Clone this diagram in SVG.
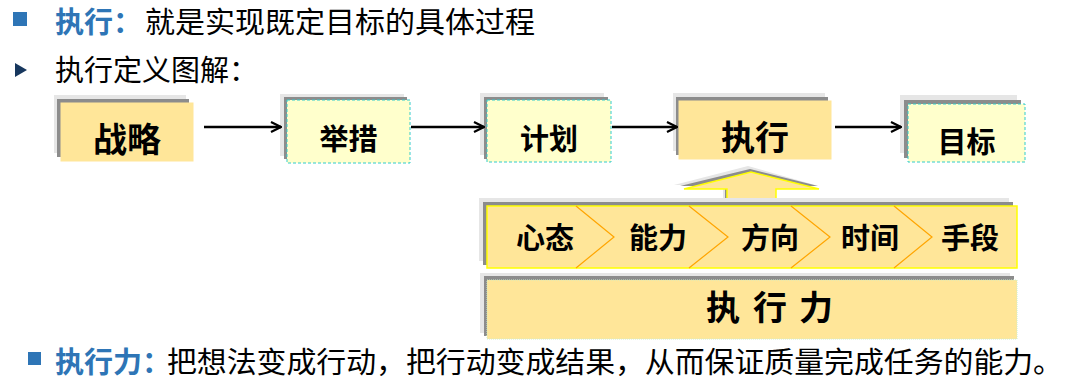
<svg xmlns="http://www.w3.org/2000/svg" width="1065" height="389" viewBox="0 0 1065 389">
  <style>
    text { font-family: "Noto Sans CJK SC", "Noto Sans", sans-serif; }
    .body { font-size: 29px; fill: #000; }
    .lead { font-size: 29px; font-weight: bold; fill: #2E75B6; }
    .lbl { font-weight: bold; fill: #000; text-anchor: middle; }
    .halo { fill: #E6E6E6; }
    .shadow { fill: #8C8C8C; }
    .gold { fill: #FFE699; stroke: #FFE699; stroke-width: 1; }
    .pale { fill: #FFFFCC; stroke: #33CCCC; stroke-width: 1; stroke-dasharray: 3 2; }
    .conn { stroke: #000; stroke-width: 2.5; fill: none; marker-end: url(#open); }
    .chev { stroke: #FFA500; stroke-width: 1.2; fill: none; }
  </style>
  <defs>
    <marker id="open" viewBox="0 0 12 12" refX="11" refY="6" markerWidth="12" markerHeight="12" markerUnits="userSpaceOnUse" orient="auto">
      <path d="M1,1 L11,6 L1,11" fill="none" stroke="#000" stroke-width="2.2"/>
    </marker>
  </defs>
  <rect width="1065" height="389" fill="#FFFFFF"/>

  <!-- header lines -->
  <g id="line1">
    <rect x="13" y="12" width="14" height="14" fill="#2E75B6"/>
    <text x="55" y="33" class="lead">执行：</text>
    <text x="145" y="33" class="body" textLength="390" lengthAdjust="spacingAndGlyphs">就是实现既定目标的具体过程</text>
  </g>
  <g id="line2">
    <polygon points="15,63 27,70 15,77" fill="#17375E"/>
    <text x="55" y="81" class="body">执行定义图解：</text>
  </g>

  <!-- nodes top row -->
  <g id="node-zhanlue">
    <rect x="54" y="95" width="132" height="58" class="halo"/>
    <rect x="57" y="99" width="132" height="58" class="shadow"/>
    <rect x="61" y="103" width="132" height="58" class="gold"/>
    <text x="127" y="152" class="lbl" font-size="34">战略</text>
  </g>
  <g id="node-jucuo">
    <rect x="280" y="94" width="124" height="62" class="halo"/>
    <rect x="284" y="97" width="123" height="62" class="shadow"/>
    <rect x="287" y="100" width="123" height="63" class="pale"/>
    <text x="348.5" y="150" class="lbl" font-size="29">举措</text>
  </g>
  <g id="node-jihua">
    <rect x="480" y="93" width="124" height="62" class="halo"/>
    <rect x="484" y="97" width="124" height="62" class="shadow"/>
    <rect x="487" y="100" width="124" height="62" class="pale"/>
    <text x="549" y="150" class="lbl" font-size="29">计划</text>
  </g>
  <g id="node-zhixing">
    <rect x="673" y="93" width="152" height="58" class="halo"/>
    <rect x="676" y="97" width="152" height="58" class="shadow"/>
    <rect x="679" y="101" width="152" height="58" class="gold"/>
    <text x="755" y="150" class="lbl" font-size="34">执行</text>
  </g>
  <g id="node-mubiao">
    <rect x="900" y="95" width="117" height="58" class="halo"/>
    <rect x="904" y="100" width="117" height="58" class="shadow"/>
    <rect x="908" y="104" width="117" height="58" class="pale"/>
    <text x="966.5" y="153" class="lbl" font-size="29">目标</text>
  </g>

  <!-- connectors -->
  <g id="connectors">
    <path d="M204,127 L281,127" class="conn"/>
    <path d="M411,127 L484,127" class="conn"/>
    <path d="M612,127 L677,127" class="conn"/>
    <path d="M835,127 L901,127" class="conn"/>
  </g>

  <!-- big up arrow -->
  <g id="up-arrow">
    <polygon points="674,185 748,166 815,185 772,185 772,203 723,203 723,185" class="halo"/>
    <polygon points="680,186 750,169 818,186 774,186 774,204 725,204 725,186" class="shadow"/>
    <polygon points="684,189 751,172 819,189 776,189 776,207 727,207 727,189" fill="#FFE699" stroke="#FFFF00" stroke-width="1.5"/>
  </g>

  <!-- factor strip -->
  <g id="node-factors">
    <rect x="479" y="198" width="530" height="63" class="halo"/>
    <rect x="483" y="202" width="530" height="63" class="shadow"/>
    <rect x="487" y="206" width="530" height="62" fill="#FFE699" stroke="#FFFF00" stroke-width="1.5"/>
    <path d="M576,206 L614,237 L576,268" class="chev"/>
    <path d="M689,206 L728,237 L689,268" class="chev"/>
    <path d="M791,206 L830,237 L791,268" class="chev"/>
    <path d="M894,206 L932,237 L894,268" class="chev"/>
    <text x="545" y="249" class="lbl" font-size="29">心态</text>
    <text x="658" y="249" class="lbl" font-size="29">能力</text>
    <text x="770" y="249" class="lbl" font-size="29">方向</text>
    <text x="870" y="249" class="lbl" font-size="29">时间</text>
    <text x="970" y="249" class="lbl" font-size="29">手段</text>
  </g>

  <g id="node-zhixingli">
    <rect x="480" y="273" width="530" height="60" class="halo"/>
    <rect x="484" y="276" width="530" height="60" class="shadow"/>
    <rect x="487" y="280" width="530" height="59" fill="#FFE699" stroke="#CCEECC" stroke-width="1" stroke-dasharray="1 1"/>
    <text x="706 740 753 787 799" y="320" font-size="34" font-weight="bold" fill="#000">执 行 力</text>
  </g>

  <g id="line3">
    <rect x="28" y="352" width="13" height="13" fill="#2E75B6"/>
    <text x="55" y="373" class="lead">执行力：</text>
    <text x="167" y="373" class="body" textLength="896" lengthAdjust="spacingAndGlyphs">把想法变成行动，把行动变成结果，从而保证质量完成任务的能力。</text>
  </g>
</svg>
